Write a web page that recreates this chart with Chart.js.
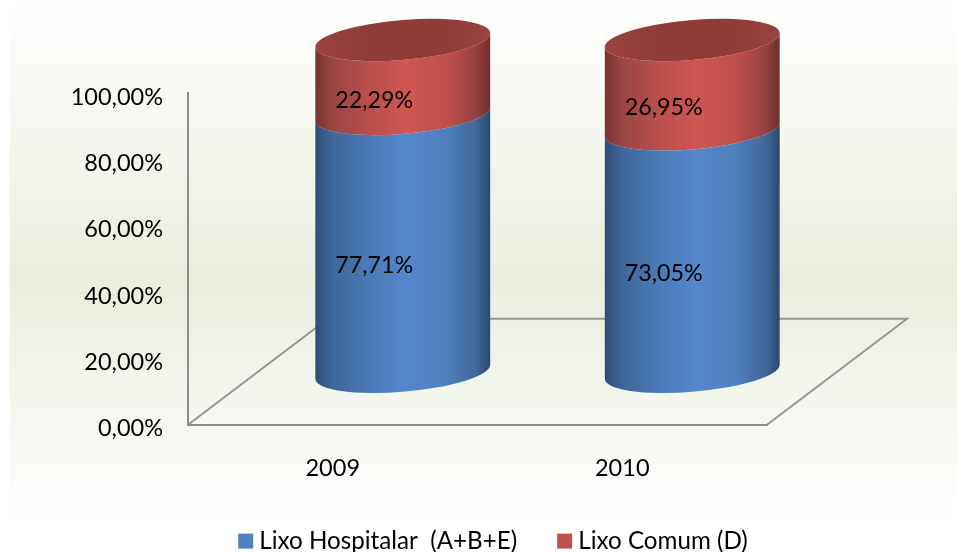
<!DOCTYPE html>
<html>
<head>
<meta charset="utf-8">
<style>
  html, body { margin: 0; padding: 0; background: #fff; }
  #wrap { width: 957px; height: 552px; }
</style>
<script src="https://cdn.jsdelivr.net/npm/chart.js@4"></script>
</head>
<body>
<div id="wrap"><canvas id="residuos" width="957" height="552"></canvas></div>
<script>
'use strict';

const categories = ['2009', '2010'];
const lixoHospitalar = [77.71, 73.05];
const lixoComum = [22.29, 26.95];
const seriesNames = ['Lixo Hospitalar  (A+B+E)', 'Lixo Comum (D)'];

const FONT = 'Lato, Carlito, sans-serif';
const DEPTH_X = 140, DEPTH_Y = 106; // floor depth
const SHEAR = 0.08, CAP = 20;       // tilt of the cylinder ends

const fmt = (v) => v.toFixed(2).replace('.', ',') + '%';

const bandStops = {
  0: [[0, '#2f4e76'], [0.1, '#3e669a'], [0.3, '#4a7ab6'], [0.52, '#5587cc'], [0.75, '#4f80bd'], [0.92, '#41689a'], [1, '#2b486e']],
  1: [[0, '#783432'], [0.1, '#9a4543'], [0.3, '#b94f4c'], [0.52, '#cf5653'], [0.75, '#c0504d'], [0.92, '#94403e'], [1, '#6c2f2d']],
};

const background = {
  id: 'background',
  beforeDraw(chart) {
    const { ctx, width } = chart;
    const g = ctx.createLinearGradient(0, 0, 0, 520);
    g.addColorStop(0, '#ffffff');
    g.addColorStop(0.54, '#e9eedd');
    g.addColorStop(1, '#ffffff');
    ctx.fillStyle = g;
    ctx.fillRect(10, 0, width - 10, 520);
  },
};

// walls of the 3d plot: floor behind the cylinders
const floor = {
  id: 'floor',
  afterLayout(chart) {
    // legend sits off centre and lower than the layout would place it
    const l = chart.legend;
    l.left = 35; l.right = 957;
    l.top = 483; l.bottom = 599;
    // y labels sit a little below their ticks in the original
    chart.scales.y.getLabelItems().forEach((item) => { item.options.translation[1] += 4; });
  },
  beforeDatasetsDraw(chart) {
    const { ctx, chartArea: a } = chart;
    ctx.save();
    ctx.strokeStyle = '#969696';
    ctx.lineWidth = 2;
    ctx.beginPath();
    ctx.moveTo(a.left, a.bottom);
    ctx.lineTo(a.left + DEPTH_X, a.bottom - DEPTH_Y);
    ctx.lineTo(a.right + DEPTH_X, a.bottom - DEPTH_Y);
    ctx.lineTo(a.right, a.bottom);
    ctx.stroke();
    ctx.restore();
  },
};

// draws each bar element as a slice of a cylinder standing mid-depth on the floor
const cylinders = {
  id: 'cylinders',
  beforeDatasetDraw(chart, args) {
    const { ctx } = chart;
    const last = chart.data.datasets.length - 1;
    args.meta.data.forEach((bar) => {
      const cx = bar.x + DEPTH_X / 2;
      const a = bar.width / 2;
      const top = bar.y - DEPTH_Y / 2;
      const base = bar.base - DEPTH_Y / 2;
      ctx.save();
      ctx.transform(1, -SHEAR, 0, 1, 0, SHEAR * cx);
      const g = ctx.createLinearGradient(cx - a, 0, cx + a, 0);
      bandStops[args.index].forEach(([p, c]) => g.addColorStop(p, c));
      ctx.fillStyle = g;
      ctx.beginPath();
      ctx.ellipse(cx, base, a, CAP, 0, Math.PI, 0, true);
      ctx.ellipse(cx, top, a, CAP, 0, 0, Math.PI, false);
      ctx.closePath();
      ctx.fill();
      if (args.index === last) {
        const capFill = ctx.createLinearGradient(cx - a, 0, cx + a, 0);
        capFill.addColorStop(0, '#9a4240');
        capFill.addColorStop(0.3, '#8f3b38');
        capFill.addColorStop(0.75, '#8f3b38');
        capFill.addColorStop(1, '#9a4240');
        ctx.fillStyle = capFill;
        ctx.beginPath();
        ctx.ellipse(cx, top, a, CAP, 0, 0, Math.PI * 2);
        ctx.fill();
      }
      ctx.restore();
    });
    return false;
  },
  afterDatasetsDraw(chart) {
    const { ctx } = chart;
    ctx.save();
    ctx.fillStyle = '#000';
    ctx.font = '23.3px ' + FONT;
    ctx.textAlign = 'center';
    ctx.textBaseline = 'middle';
    chart.data.datasets.forEach((ds, i) => {
      chart.getDatasetMeta(i).data.forEach((bar, j) => {
        const cy = (bar.y + bar.base) / 2 - DEPTH_Y / 2;
        ctx.fillText(fmt(ds.data[j]), bar.x + DEPTH_X / 2 - 28.5, cy + 23);
      });
    });
    ctx.restore();
  },
};

new Chart(document.querySelector('#residuos'), {
  type: 'bar',
  data: {
    labels: categories,
    datasets: [
      // thick border + tiny box: legend swatch hugging its text
      { label: seriesNames[0], data: lixoHospitalar, backgroundColor: '#4f81bd', borderColor: '#4f81bd', borderWidth: 12 },
      { label: seriesNames[1], data: lixoComum, backgroundColor: '#c0504d', borderColor: '#c0504d', borderWidth: 12 },
    ],
  },
  plugins: [background, floor, cylinders],
  options: {
    responsive: false,
    animation: false,
    barPercentage: 0.604,
    categoryPercentage: 1,
    layout: { padding: { top: 93, right: 190, left: 0, bottom: -13 } },
    scales: {
      x: {
        stacked: true,
        afterFit(scale) { scale.height = 60; },
        grid: { display: false, drawTicks: false },
        border: { color: '#8c8c8c', width: 2 },
        ticks: { color: '#000', padding: 30, font: { family: FONT, size: 23.5 }, maxRotation: 0 },
      },
      y: {
        stacked: true,
        min: 0,
        max: 100,
        afterFit(scale) { scale.width = 188; },
        grid: { display: false, drawTicks: false },
        border: { color: '#8c8c8c', width: 2 },
        ticks: { color: '#000', padding: 25, stepSize: 20, font: { family: FONT, size: 23.5 }, callback: (v) => fmt(v) },
      },
    },
    plugins: {
      tooltip: { enabled: false },
      legend: {
        position: 'bottom',
        labels: { color: '#000', boxWidth: 3, boxHeight: 3, padding: 46, font: { family: FONT, size: 24.2 } },
      },
    },
  },
});
</script>
</body>
</html>
